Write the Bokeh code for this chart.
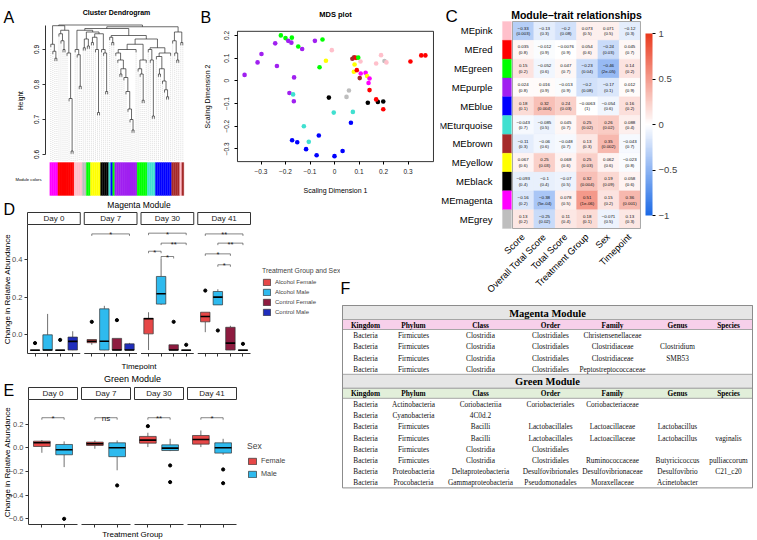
import numpy as np
from bokeh.plotting import figure
from bokeh.models import (GridBox, Range1d, FixedTicker, Label, ColorBar,
                          LinearColorMapper, CustomJSTickFormatter, Legend, LegendItem)
from bokeh.core.properties import value
from bokeh.embed import file_html
from bokeh.resources import INLINE

SANS = "Liberation Sans"
SERIF = "Liberation Serif"

R_COLORS = {"magenta": "#FF00FF", "red": "#FF0000", "pink": "#FFC0CB", "grey": "#BEBEBE",
            "green": "#00FF00", "yellow": "#FFFF00", "black": "#000000",
            "turquoise": "#40E0D0", "blue": "#0000FF", "purple": "#A020F0", "brown": "#A52A2A"}

# ---------------- A: dendrogram data ----------------
dend_color_runs = [("magenta", 4), ("red", 8), ("pink", 4), ("grey", 2), ("green", 2),
                   ("yellow", 5), ("black", 4), ("turquoise", 1), ("blue", 1), ("green", 1),
                   ("purple", 11), ("green", 5), ("turquoise", 4), ("blue", 8), ("brown", 4),
                   ("pink", 1), ("brown", 1)]
merge_a = [2, 1, 0, 6, 5, 4, 10, 9, 8, 71, 68, 14, 13, 12, 16, 18, 80, 23, 22, 20, 85,
           27, 26, 25, 86, 82, 30, 29, 40, 39, 38, 37, 36, 34, 99, 33, 32, 102, 45, 44, 43,
           106, 103, 50, 49, 48, 57, 56, 55, 53, 115, 52, 117, 111, 108, 93, 62, 61, 64, 60,
           125, 79, 127, 128, 76]
merge_b = [3, 66, 67, 7, 69, 70, 11, 72, 73, 74, 75, 15, 77, 78, 17, 19, 81, 24, 83, 21, 84,
           28, 87, 88, 89, 90, 31, 92, 41, 94, 95, 96, 97, 35, 98, 100, 101, 42, 46, 104, 105,
           47, 107, 51, 109, 110, 58, 112, 113, 54, 114, 116, 59, 118, 119, 120, 63, 122, 65,
           123, 124, 91, 121, 126, 129]
merge_h = [0.875, 0.895, 0.915, 0.90, 0.925, 0.945, 0.61, 0.76, 0.89, 0.955, 0.968,
           0.795, 0.885, 0.90, 0.905, 0.91, 0.93, 0.72, 0.90, 0.92, 0.935,
           0.78, 0.89, 0.90, 0.945, 0.95, 0.92, 0.935,
           0.67, 0.70, 0.73, 0.78, 0.82, 0.83, 0.845, 0.87, 0.89, 0.90,
           0.755, 0.83, 0.845, 0.87, 0.915, 0.71, 0.87, 0.90,
           0.765, 0.785, 0.81, 0.83, 0.845, 0.88, 0.89, 0.905, 0.93, 0.94,
           0.87, 0.89, 0.92, 0.925, 0.95, 0.955, 0.96, 0.965, 0.97]
dend_yticks = [0.6, 0.7, 0.8, 0.9]

# ---------------- B: MDS data ----------------
mds_x = [-0.219, -0.200, -0.189, -0.174, -0.176, -0.242, -0.148, -0.132, -0.080, -0.049,
         -0.011, -0.298, -0.314, -0.235, -0.035, -0.061, -0.367, -0.165, -0.184, -0.169,
         -0.166, -0.023, 0.059, 0.049, -0.003, 0.075, 0.067, -0.125, -0.064, -0.173,
         -0.152, -0.105, -0.116, 0.033, -0.073, 0.000, 0.136, 0.177, 0.170, 0.143,
         0.199, 0.199, 0.073, 0.080, 0.088, 0.097, 0.106, 0.082, 0.079, 0.107,
         0.127, 0.133, 0.143, 0.139, 0.103, 0.091, 0.170, 0.190, 0.204, 0.212,
         0.310, 0.354, 0.371]
mds_y = [0.200, 0.188, 0.176, 0.190, 0.168, 0.165, 0.151, 0.140, 0.176, 0.182,
         0.135, 0.118, 0.081, 0.065, 0.088, 0.060, 0.026, 0.015, -0.054, -0.060,
         -0.090, -0.074, -0.043, -0.071, -0.140, -0.137, -0.185, -0.200, -0.241, -0.262,
         -0.271, -0.269, -0.301, -0.309, -0.328, -0.332, -0.097, -0.093, -0.082, -0.041,
         -0.091, -0.125, 0.097, 0.103, 0.101, 0.102, 0.085, 0.072, 0.040, 0.032,
         0.035, 0.021, 0.010, -0.010, 0.012, 0.047, 0.076, 0.113, 0.087, 0.081,
         0.085, 0.112, 0.112]
mds_module = ["green", "green", "purple", "green", "purple", "purple", "green", "purple", "purple", "green",
              "pink", "purple", "purple", "purple", "yellow", "green", "purple", "purple", "purple", "turquoise",
              "purple", "black", "grey", "grey", "turquoise", "turquoise", "blue", "turquoise", "blue", "blue",
              "blue", "turquoise", "blue", "blue", "blue", "blue", "black", "black", "red", "red",
              "black", "red", "brown", "brown", "red", "green", "pink", "yellow", "yellow", "magenta",
              "magenta", "yellow", "magenta", "magenta", "brown", "red", "pink", "pink", "grey", "pink",
              "red", "red", "red"]
mds_xticks = [-0.3, -0.2, -0.1, 0.0, 0.1, 0.2, 0.3]
mds_yticks = [-0.3, -0.2, -0.1, 0.0, 0.1, 0.2]

# ---------------- C: module-trait data ----------------
module_names = ["MEpink", "MEred", "MEgreen", "MEpurple", "MEblue", "MEturquoise",
                "MEbrown", "MEyellow", "MEblack", "MEmagenta", "MEgrey"]
module_colors = ["pink", "red", "green", "purple", "blue", "turquoise",
                 "brown", "yellow", "black", "magenta", "grey"]
trait_names = ["Score", "Overall Total Score", "Total Score", "Treatment Group", "Sex", "Timepoint"]
cor_pink = [-0.33, -0.13, -0.2, 0.073, 0.071, -0.12]
cor_red = [0.035, -0.012, -0.0076, 0.054, -0.24, 0.045]
cor_green = [0.15, -0.052, 0.047, -0.23, -0.46, 0.14]
cor_purple = [0.024, 0.016, -0.013, -0.2, -0.17, 0.012]
cor_blue = [0.18, 0.32, 0.24, -0.0063, -0.054, 0.16]
cor_turquoise = [-0.043, -0.085, 0.045, 0.25, 0.26, 0.088]
cor_brown = [-0.11, -0.06, -0.048, 0.13, 0.35, -0.043]
cor_yellow = [0.067, 0.25, 0.068, 0.25, 0.062, -0.023]
cor_black = [-0.093, -0.1, -0.07, 0.32, 0.19, 0.058]
cor_magenta = [-0.16, -0.38, 0.078, 0.51, 0.15, 0.36]
cor_grey = [0.13, -0.25, 0.11, 0.18, -0.071, 0.13]
p_pink = ["0.003", "0.3", "0.08", "0.5", "0.5", "0.3"]
p_red = ["0.8", "0.9", "0.9", "0.6", "0.03", "0.7"]
p_green = ["0.2", "0.6", "0.7", "0.04", "2e-05", "0.2"]
p_purple = ["0.8", "0.9", "0.9", "0.08", "0.1", "0.9"]
p_blue = ["0.1", "0.004", "0.03", "1", "0.6", "0.2"]
p_turquoise = ["0.7", "0.5", "0.7", "0.02", "0.02", "0.4"]
p_brown = ["0.3", "0.6", "0.7", "0.3", "0.002", "0.7"]
p_yellow = ["0.6", "0.03", "0.6", "0.03", "0.6", "0.8"]
p_black = ["0.4", "0.4", "0.5", "0.004", "0.09", "0.6"]
p_magenta = ["0.2", "5e-04", "0.5", "1e-06", "0.2", "0.001"]
p_grey = ["0.2", "0.02", "0.4", "0.1", "0.5", "0.3"]
cor_rows = [cor_pink, cor_red, cor_green, cor_purple, cor_blue, cor_turquoise,
            cor_brown, cor_yellow, cor_black, cor_magenta, cor_grey]
p_rows = [p_pink, p_red, p_green, p_purple, p_blue, p_turquoise,
          p_brown, p_yellow, p_black, p_magenta, p_grey]
cbar_ticks = [-1, -0.5, 0, 0.5, 1]

# ---------------- D: magenta module boxplots ----------------
d_days = ["Day 0", "Day 7", "Day 30", "Day 41"]
d_groups = ["Alcohol Female", "Alcohol Male", "Control Female", "Control Male"]
d_box_day = [0, 0, 0, 0, 1, 1, 1, 1, 2, 2, 2, 2, 3, 3, 3, 3]
d_box_grp = [0, 1, 2, 3, 0, 1, 2, 3, 0, 1, 2, 3, 0, 1, 2, 3]
d_lo = [-0.082, -0.082, -0.082, -0.082, -0.053, -0.082, -0.082, -0.082,
        -0.081, 0.159, -0.082, -0.082, 0.014, 0.159, -0.082, -0.082]
d_q1 = [-0.082, -0.082, -0.082, -0.081, -0.042, -0.081, -0.081, -0.081,
        0.005, 0.163, -0.081, -0.082, 0.069, 0.159, -0.081, -0.082]
d_med = [-0.082, -0.081, -0.082, -0.035, -0.034, -0.034, -0.081, -0.081,
         0.085, 0.218, -0.081, -0.082, 0.097, 0.200, -0.044, -0.082]
d_q3 = [-0.081, 0.000, -0.081, -0.012, -0.025, 0.138, -0.019, -0.048,
        0.088, 0.310, -0.053, -0.081, 0.120, 0.230, 0.040, -0.081]
d_hi = [-0.081, 0.111, -0.081, 0.019, -0.025, 0.154, -0.019, -0.043,
        0.120, 0.405, -0.053, -0.081, 0.120, 0.242, 0.048, -0.081]
d_out_day = [0, 0, 1, 1, 2, 2, 3, 3, 3]
d_out_grp = [0, 2, 0, 2, 2, 3, 0, 1, 3]
d_out_val = [-0.044, -0.027, 0.069, 0.078, 0.069, -0.053, 0.235, 0.023, -0.048]
d_br_day = [1, 2, 2, 2, 2, 3, 3, 3, 3]
d_br_g1 = [0, 0, 1, 0, 1, 0, 1, 0, 1]
d_br_g2 = [3, 3, 3, 1, 2, 3, 3, 2, 2]
d_br_y = [0.536, 0.540, 0.487, 0.444, 0.416, 0.536, 0.487, 0.430, 0.372]
d_br_lab = ["*", "*", "**", "*", "*", "**", "**", "*", "*"]
d_yticks = [0.0, 0.2, 0.4]

# ---------------- E: green module boxplots ----------------
e_days = ["Day 0", "Day 7", "Day 30", "Day 41"]
e_groups = ["Female", "Male"]
e_box_day = [0, 0, 1, 1, 2, 2, 3, 3]
e_box_grp = [0, 1, 0, 1, 0, 1, 0, 1]
e_lo = [-0.042, -0.163, -0.008, -0.190, 0.006, -0.028, 0.006, -0.059]
e_q1 = [0.011, -0.059, 0.020, -0.075, 0.039, -0.023, 0.031, -0.045]
e_med = [0.042, -0.017, 0.034, 0.000, 0.065, -0.003, 0.070, 0.000]
e_q3 = [0.056, 0.028, 0.048, 0.042, 0.096, 0.025, 0.104, 0.042]
e_hi = [0.065, 0.054, 0.062, 0.062, 0.127, 0.076, 0.146, 0.076]
e_out_day = [0, 1, 2, 2, 2, 3, 3]
e_out_grp = [1, 1, 0, 1, 1, 1, 1]
e_out_val = [-0.600, -0.318, 0.183, -0.149, -0.290, -0.183, -0.299]
e_br_day = [0, 1, 2, 3]
e_br_g1 = [0, 0, 0, 0]
e_br_g2 = [1, 1, 1, 1]
e_br_y = [0.254, 0.254, 0.254, 0.254]
e_br_lab = ["*", "ns", "**", "*"]
e_yticks = [-0.6, -0.4, -0.2, 0.0, 0.2]

# ---------------- F: taxonomy table ----------------
tax_ranks = ["Kingdom", "Phylum", "Class", "Order", "Family", "Genus", "Species"]
magenta_taxa = [
    ["Bacteria", "Firmicutes", "Clostridia", "Clostridiales", "Christensenellaceae", "", ""],
    ["Bacteria", "Firmicutes", "Clostridia", "Clostridiales", "Clostridiaceae", "Clostridium", ""],
    ["Bacteria", "Firmicutes", "Clostridia", "Clostridiales", "Clostridiaceae", "SMB53", ""],
    ["Bacteria", "Firmicutes", "Clostridia", "Clostridiales", "Peptostreptococcaceae", "", ""],
]
green_taxa = [
    ["Bacteria", "Actinobacteria", "Coriobacteriia", "Coriobacteriales", "Coriobacteriaceae", "", ""],
    ["Bacteria", "Cyanobacteria", "4C0d.2", "", "", "", ""],
    ["Bacteria", "Firmicutes", "Bacilli", "Lactobacillales", "Lactoacillaceae", "Lactobacillus", ""],
    ["Bacteria", "Firmicutes", "Bacilli", "Lactobacillales", "Lactoacillaceae", "Lactobacillus", "vaginalis"],
    ["Bacteria", "Firmicutes", "Clostridia", "Clostridiales", "", "", ""],
    ["Bacteria", "Firmicutes", "Clostridia", "Clostridiales", "Ruminococcaceae", "Butyricicoccus", "pulliaccorum"],
    ["Bacteria", "Proteobacteria", "Deltaproteobacteria", "Desulfovibrionales", "Desulfovibrionaceae", "Desulfovibrio", "C21_c20"],
    ["Bacteria", "Procobacteria", "Gammaproteobacteria", "Pseudomonadales", "Moraxellaceae", "Acinetobacter", ""],
]


# ================= helpers =================
def canvas_fig(w, h, x_left, x_right, y_top, y_bottom):
    """Figure whose frame fills the whole canvas; axes are pinned with fixed_location."""
    p = figure(width=w, height=h, x_range=Range1d(x_left, x_right),
               y_range=Range1d(y_bottom, y_top), output_backend="svg",
               toolbar_location=None, min_border_left=0, min_border_right=0,
               min_border_top=0, min_border_bottom=0)
    p.xgrid.visible = False
    p.ygrid.visible = False
    p.outline_line_color = None
    p.background_fill_color = "white"
    p.border_fill_color = "white"
    return p


def add_label(p, x, y, text, size, bold=False, align="left", baseline="middle",
              font=SANS, color="black", angle=0.0):
    p.add_layout(Label(x=x, y=y, text=text, text_font=font, text_font_size=f"{size}px",
                       text_font_style="bold" if bold else "normal", text_align=align,
                       text_baseline=baseline, text_color=color, angle=angle))


def style_axis(ax, tick_size, tick_color="black", line_color="black", tick_out=3):
    ax.major_label_text_font = SANS
    ax.major_label_text_font_size = f"{tick_size}px"
    ax.major_label_text_color = tick_color
    ax.axis_line_color = line_color
    ax.major_tick_line_color = line_color
    ax.major_tick_in = 0
    ax.major_tick_out = tick_out
    ax.minor_tick_line_color = None


# ================= A: Cluster dendrogram =================
A_W, A_H = 190, 197
leaf_modules = [m for m, n in dend_color_runs for _ in range(n)]
n_leaf = len(leaf_modules)
a_leaf0 = 50.3
a_leaf_px = (182.3 - a_leaf0) / (n_leaf - 1)


def AX(px):
    return (px - a_leaf0) / a_leaf_px


def AY(py):
    return 0.9 - (py - 49) / 350.0


pA = canvas_fig(A_W, A_H, AX(0), AX(A_W), AY(0), AY(A_H))
node_x = {i: float(i) for i in range(n_leaf)}
node_h = {}
leaf_end = {}
hang = 0.008
sx0, sy0, sx1, sy1 = [], [], [], []
for k, (a, b, h) in enumerate(zip(merge_a, merge_b, merge_h)):
    nid = n_leaf + k
    for c in (a, b):
        if c < n_leaf:
            ch = h - hang
            leaf_end[c] = ch
        else:
            ch = node_h[c]
        sx0.append(node_x[c]); sy0.append(ch); sx1.append(node_x[c]); sy1.append(h)
    sx0.append(node_x[a]); sy0.append(h); sx1.append(node_x[b]); sy1.append(h)
    node_x[nid] = (node_x[a] + node_x[b]) / 2.0
    node_h[nid] = h

a_bar_top = AY(162)
a_bar_bot = AY(195)
leaves = list(range(n_leaf))
pA.segment(x0=leaves, x1=leaves, y0=[leaf_end[i] for i in leaves], y1=a_bar_top + 0.004,
           line_color="#B8B8B8", line_width=0.5, line_dash="1 1")
pA.segment(x0=sx0, y0=sy0, x1=sx1, y1=sy1, line_color="#2b2b2b", line_width=0.7)
leaf_hex = [R_COLORS[m] for m in leaf_modules]
pA.quad(left=[i - 0.5 for i in leaves], right=[i + 0.5 for i in leaves], top=a_bar_top,
        bottom=a_bar_bot, fill_color=leaf_hex, line_color=leaf_hex, line_width=0.3)
pA.xaxis.visible = False
ya = pA.yaxis[0]
style_axis(ya, 6.5, line_color="#333333", tick_out=3)
ya.fixed_location = AX(45)
ya.ticker = FixedTicker(ticks=dend_yticks)
ya.bounds = (0.6, 0.97)
ya.major_label_orientation = "parallel"
ya.major_label_standoff = 4
add_label(pA, AX(20), AY(100), "Height", 6.5, align="center", angle=np.pi / 2)
add_label(pA, AX(116), AY(11.5), "Cluster Dendrogram", 7, bold=True, align="center")
add_label(pA, AX(3), AY(16.5), "A", 16)
add_label(pA, AX(28), AY(178.5), "Module colors", 4.2, align="center")

# ================= B: MDS plot =================
B_W, B_H = 250, 197


def BX(px):
    return (px - 144) / 245.0


def BY(py):
    return -(py - 80.3) / 227.0


pB = canvas_fig(B_W, B_H, BX(0), BX(B_W), BY(0), BY(B_H))
b_box = (-0.396, 0.404, -0.356, 0.218)
pB.scatter(mds_x, mds_y, size=4.6, fill_color=[R_COLORS[m] for m in mds_module], line_color=None)
pB.quad(left=b_box[0], right=b_box[1], bottom=b_box[2], top=b_box[3], fill_color=None,
        line_color="black", line_width=0.8)
xb = pB.xaxis[0]
style_axis(xb, 6.5, tick_color="#222222")
xb.ticker = FixedTicker(ticks=mds_xticks)
xb.fixed_location = b_box[2]
xb.axis_line_color = None
xb.major_label_standoff = 4
yb = pB.yaxis[0]
style_axis(yb, 6.5, tick_color="#222222")
yb.ticker = FixedTicker(ticks=mds_yticks)
yb.fixed_location = b_box[0]
yb.axis_line_color = None
yb.major_label_orientation = "parallel"
yb.major_label_standoff = 5
add_label(pB, BX(145), BY(190), "Scaling Dimension 1", 7, align="center")
add_label(pB, BX(17), BY(96), "Scaling Dimension 2", 7, align="center", angle=np.pi / 2)
add_label(pB, BX(145), BY(14), "MDS plot", 7.5, bold=True, align="center")
add_label(pB, BX(10), BY(17), "B", 16)

# ================= C: Module-trait heatmap =================
C_W, C_H = 317, 300
nmod = len(module_names)
ntr = len(trait_names)
c_row_px = (228 - 21) / nmod


def CX(px):
    return (px - 72) / 21.33


def CY(py):
    return (py - 21) / c_row_px


pC = canvas_fig(C_W, C_H, CX(0), CX(C_W), CY(0), CY(C_H))

lo_rgb = (28, 106, 230)
hi_rgb = (234, 58, 30)
palette = []
for k in range(101):
    t = -1 + 2 * k / 100
    if t < 0:
        cc = [255 + (-t) * (lc - 255) for lc in lo_rgb]
    else:
        cc = [255 + t * (hc - 255) for hc in hi_rgb]
    palette.append("#%02x%02x%02x" % tuple(int(round(v)) for v in cc))

cl, cr, ctp, cbt, cfill, cxs, cys, vtxt, ptxt = [], [], [], [], [], [], [], [], []
for i in range(nmod):
    for j in range(ntr):
        v = cor_rows[i][j]
        cl.append(j); cr.append(j + 1); ctp.append(i); cbt.append(i + 1)
        cfill.append(palette[int(round((v + 1) / 2 * 100))])
        cxs.append(j + 0.5); cys.append(i + 0.5)
        vtxt.append(f"{v:.2g}".replace("-", "\u2212"))
        ptxt.append("(" + p_rows[i][j] + ")")
pC.quad(left=cl, right=cr, top=ctp, bottom=cbt, fill_color=cfill, line_color=cfill, line_width=0.3)
pC.text(x=cxs, y=cys, text=vtxt, y_offset=-2.8, text_font=value(SANS), text_font_size="4.4px",
        text_align="center", text_baseline="middle", text_color="#111111")
pC.text(x=cxs, y=cys, text=ptxt, y_offset=2.8, text_font=value(SANS), text_font_size="4.4px",
        text_align="center", text_baseline="middle", text_color="#111111")
pC.quad(left=0, right=ntr, top=0, bottom=nmod, fill_color=None, line_color="#A8A8A8", line_width=1)
mc_hex = [R_COLORS[m] for m in module_colors]
pC.quad(left=-0.47, right=-0.05, top=list(range(nmod)), bottom=[i + 1 for i in range(nmod)],
        fill_color=mc_hex, line_color=mc_hex, line_width=0.3)

mapper = LinearColorMapper(palette=palette, low=-1, high=1)
cbar = ColorBar(color_mapper=mapper, location=(205, C_H - 215), orientation="vertical", width=7,
                height=182, padding=0, margin=0,
                ticker=FixedTicker(ticks=cbar_ticks),
                formatter=CustomJSTickFormatter(code="return tick.toString().replace('-', '\\u2212')"),
                major_label_text_font=SANS, major_label_text_font_size="9.5px",
                major_tick_line_color="black", major_tick_in=0, major_tick_out=3,
                minor_tick_line_color=None, bar_line_color=None, border_line_color=None,
                background_fill_color=None, label_standoff=3)
pC.add_layout(cbar)

xc = pC.xaxis[0]
style_axis(xc, 9.3)
xc.ticker = FixedTicker(ticks=[j + 0.5 for j in range(ntr)])
xc.major_label_overrides = {j + 0.5: t for j, t in enumerate(trait_names)}
xc.major_label_orientation = np.pi / 4
xc.fixed_location = nmod
xc.axis_line_color = None
xc.major_tick_line_color = None
xc.major_label_standoff = 4
yc = pC.yaxis[0]
style_axis(yc, 9.5)
yc.ticker = FixedTicker(ticks=[i + 0.5 for i in range(nmod)])
yc.major_label_overrides = {i + 0.5: m for i, m in enumerate(module_names)}
yc.fixed_location = CX(60)
yc.axis_line_color = None
yc.major_tick_line_color = None
yc.major_label_standoff = 5
add_label(pC, ntr / 2, CY(14), "Module\u2013trait relationships", 10.5, bold=True, align="center")
add_label(pC, CX(5), CY(16), "C", 17)


# ================= D / E: faceted boxplots =================
def facet_boxplot(W, H, fl, fr, ft, strip_px, data_px, vtop, vbot, gap_px,
                  days, groups, colors, box_day, box_grp, lo, q1, med, q3, hi,
                  out_day, out_grp, out_val, br_day, br_g1, br_g2, br_y, br_lab,
                  yticks, title, letter, xlabel, ylabel, leg_title, st):
    ng = len(groups)
    nd = len(days)
    pw = ng + 0.2
    u = (fr - fl - (nd - 1) * gap_px) / (nd * pw)
    gap_u = gap_px / u
    period = pw + gap_u
    xmax = nd * pw + (nd - 1) * gap_u
    ppu = data_px / (vtop - vbot)
    dtop = ft + strip_px

    def X(px):
        return (px - fl) / u

    def Y(py):
        return vtop - (py - dtop) / ppu

    p = canvas_fig(W, H, X(0), X(W), Y(0), Y(H))

    def gx(d, g):
        return d * period + 0.6 + g

    plefts = [d * period for d in range(nd)]
    p.quad(left=plefts, right=[x + pw for x in plefts],
           bottom=vtop, top=Y(ft), fill_color="white", line_color="#333333", line_width=1)
    p.text(x=[x + pw / 2 for x in plefts], y=(vtop + Y(ft)) / 2, text=days,
           text_font=value(SANS), text_font_size=f"{st['strip']}px", text_align="center",
           text_baseline="middle", text_color="#1A1A1A")
    p.segment(x0=plefts, x1=[x + pw for x in plefts], y0=vbot, y1=vbot,
              line_color="#333333", line_width=1)

    bx = [gx(d, g) for d, g in zip(box_day, box_grp)]
    p.segment(x0=bx, x1=bx, y0=q3, y1=hi, line_color="#333333", line_width=0.7)
    p.segment(x0=bx, x1=bx, y0=q1, y1=lo, line_color="#333333", line_width=0.7)
    rends = []
    for g in range(ng):
        idx = [i for i in range(len(bx)) if box_grp[i] == g]
        r = p.vbar(x=[bx[i] for i in idx], width=0.75, bottom=[q1[i] for i in idx],
                   top=[q3[i] for i in idx], fill_color=colors[g], line_color="#333333",
                   line_width=0.7)
        rends.append(r)
    p.segment(x0=[x - 0.375 for x in bx], x1=[x + 0.375 for x in bx], y0=med, y1=med,
              line_color="black", line_width=1.6)
    p.scatter(x=[gx(d, g) for d, g in zip(out_day, out_grp)], y=out_val, size=st["pt"],
              color="black")

    bx0 = [gx(d, a) for d, a in zip(br_day, br_g1)]
    bx1 = [gx(d, b) for d, b in zip(br_day, br_g2)]
    tip = 2.0 / ppu
    p.segment(x0=bx0, x1=bx1, y0=br_y, y1=br_y, line_color="#333333", line_width=0.6)
    p.segment(x0=bx0, x1=bx0, y0=br_y, y1=[y - tip for y in br_y], line_color="#333333", line_width=0.6)
    p.segment(x0=bx1, x1=bx1, y0=br_y, y1=[y - tip for y in br_y], line_color="#333333", line_width=0.6)
    p.text(x=[(a + b) / 2 for a, b in zip(bx0, bx1)], y=br_y, text=list(br_lab), y_offset=st["star_off"],
           text_font=value(SANS), text_font_size=f"{st['star']}px", text_align="center",
           text_baseline="alphabetic", text_color="#1A1A1A")

    xa = p.xaxis[0]
    style_axis(xa, 6, line_color="#333333", tick_out=3)
    xa.ticker = FixedTicker(ticks=[gx(d, g) for d in range(nd) for g in range(ng)])
    xa.formatter = CustomJSTickFormatter(code="return ''")
    xa.fixed_location = vbot
    xa.axis_line_color = None
    xa.major_label_standoff = 0
    ya_ = p.yaxis[0]
    style_axis(ya_, st["tick"], tick_color="#4D4D4D", line_color="#333333", tick_out=3)
    ya_.ticker = FixedTicker(ticks=yticks)
    ya_.fixed_location = 0
    ya_.bounds = (vbot, vtop)
    ya_.formatter = CustomJSTickFormatter(code="return tick.toFixed(1).replace('-', '\\u2212')")
    ya_.major_label_standoff = 2

    leg = Legend(items=[LegendItem(label=gname, renderers=[r]) for gname, r in zip(groups, rends)],
                 title=leg_title, location=(st["leg_x"], H - st["leg_bottom"]), orientation="vertical",
                 title_text_font=SANS, title_text_font_size=f"{st['leg_title']}px",
                 title_text_font_style="normal", title_standoff=st["leg_title_sd"],
                 label_text_font=SANS, label_text_font_size=f"{st['leg']}px",
                 glyph_width=st["gw"], glyph_height=st["gh"], label_height=st["gh"],
                 label_standoff=4, spacing=st["sp"], padding=0, margin=0,
                 border_line_color=None, background_fill_alpha=0)
    p.add_layout(leg)

    add_label(p, xmax / 2, Y(st["title_py"]), title, st["title"], align="center")
    add_label(p, X(3), Y(st["letter_py"]), letter, 16)
    add_label(p, xmax / 2, Y(st["xlab_py"]), xlabel, st["axis"], align="center")
    add_label(p, X(st["ylab_px"]), Y(dtop + data_px / 2), ylabel, st["axis"], align="center",
              angle=np.pi / 2)
    return p


d_style = dict(strip=8, pt=3.2, star=7.5, star_off=1, axis=8, tick=7.5,
               leg_title=6.8, leg_title_sd=4, leg=6, gw=9, gh=8, sp=2, leg_x=262, leg_bottom=119,
               title=8.5, title_py=7, letter_py=12, xlab_py=168.5, ylab_px=7)
pD = facet_boxplot(340, 173, 27, 250, 15, 12, 129, 0.586, -0.0993, 4,
                   d_days, d_groups, ["#E64747", "#2EBAEE", "#8E1B3F", "#1F2DBC"],
                   d_box_day, d_box_grp, d_lo, d_q1, d_med, d_q3, d_hi,
                   d_out_day, d_out_grp, d_out_val, d_br_day, d_br_g1, d_br_g2, d_br_y, d_br_lab,
                   d_yticks, "Magenta Module", "D", "Timepoint", "Change in Relative Abundance",
                   "Treatment Group and Sex", d_style)

e_style = dict(strip=8, pt=3.2, star=8, star_off=1, axis=8, tick=7.5,
               leg_title=8.5, leg_title_sd=5, leg=7.3, gw=10, gh=8, sp=4, leg_x=247, leg_bottom=108,
               title=9, title_py=8, letter_py=20, xlab_py=164, ylab_px=7)
pE = facet_boxplot(340, 170, 28, 236, 17, 12, 125, 0.408, -0.648, 4,
                   e_days, e_groups, ["#E64747", "#2EBAEE"],
                   e_box_day, e_box_grp, e_lo, e_q1, e_med, e_q3, e_hi,
                   e_out_day, e_out_grp, e_out_val, e_br_day, e_br_g1, e_br_g2, e_br_y, e_br_lab,
                   e_yticks, "Green Module", "E", "Treatment Group", "Change in Relative Abundance",
                   "Sex", e_style)

# ================= F letter cell =================
pFL = canvas_fig(100, 103, 0, 100, 0, 103)
pFL.xaxis.visible = False
pFL.yaxis.visible = False
add_label(pFL, 0, 91, "F", 16)

# ================= F: taxonomy table =================
F_W, F_H = 417, 240
pF = canvas_fig(F_W, F_H, 0, F_W, 0, F_H)
pF.xaxis.visible = False
pF.yaxis.visible = False
f_col_x = [25, 73, 140, 210, 272, 337, 388]
t_left, t_right, t_top = 2, 412, 5
title_h, head_h, row_h = 14, 10, 11.2
sections = [("Magenta Module", "#F7D0EA", magenta_taxa), ("Green Module", "#E2EFDA", green_taxa)]
ql, qr, qt, qb, qc = [], [], [], [], []
tt_x, tt_y, tt_t = [], [], []
hd_x, hd_y, hd_t = [], [], []
bd_x, bd_y, bd_t = [], [], []
yy = t_top
for name, hcol, rows in sections:
    ql.append(t_left); qr.append(t_right); qt.append(yy); qb.append(yy + title_h); qc.append("#E6E6E6")
    tt_x.append((t_left + t_right) / 2); tt_y.append(yy + title_h / 2 + 0.5); tt_t.append(name)
    yy += title_h
    ql.append(t_left); qr.append(t_right); qt.append(yy); qb.append(yy + head_h); qc.append(hcol)
    for j, rk in enumerate(tax_ranks):
        hd_x.append(f_col_x[j]); hd_y.append(yy + head_h / 2 + 0.5); hd_t.append(rk)
    yy += head_h
    for row in rows:
        for j, s in enumerate(row):
            if s:
                bd_x.append(f_col_x[j]); bd_y.append(yy + row_h / 2 + 0.5); bd_t.append(s)
        yy += row_h
pF.quad(left=ql, right=qr, top=qt, bottom=qb, fill_color=qc, line_color="#A6A6A6", line_width=1)
pF.quad(left=t_left, right=t_right, top=t_top, bottom=yy, fill_color=None, line_color="#8C8C8C",
        line_width=1)
pF.text(x=tt_x, y=tt_y, text=tt_t, text_font=value(SERIF), text_font_size="10.5px",
        text_font_style="bold", text_align="center", text_baseline="middle", text_color="black")
pF.text(x=hd_x, y=hd_y, text=hd_t, text_font=value(SERIF), text_font_size="7.3px",
        text_font_style="bold", text_align="center", text_baseline="middle", text_color="black")
pF.text(x=bd_x, y=bd_y, text=bd_t, text_font=value(SERIF), text_font_size="7.3px",
        text_align="center", text_baseline="middle", text_color="#111111")

# ================= layout =================
grid = GridBox(children=[(pA, 0, 0), (pB, 0, 1, 1, 2), (pC, 0, 3, 2, 1), (pD, 1, 0, 2, 2),
                         (pFL, 1, 2), (pF, 2, 2, 2, 2), (pE, 3, 0, 1, 2)],
               rows=["197px", "103px", "70px", "170px"],
               cols=["190px", "150px", "100px", "317px"], spacing=0)

open("out.html", "w").write(file_html(grid, INLINE))
